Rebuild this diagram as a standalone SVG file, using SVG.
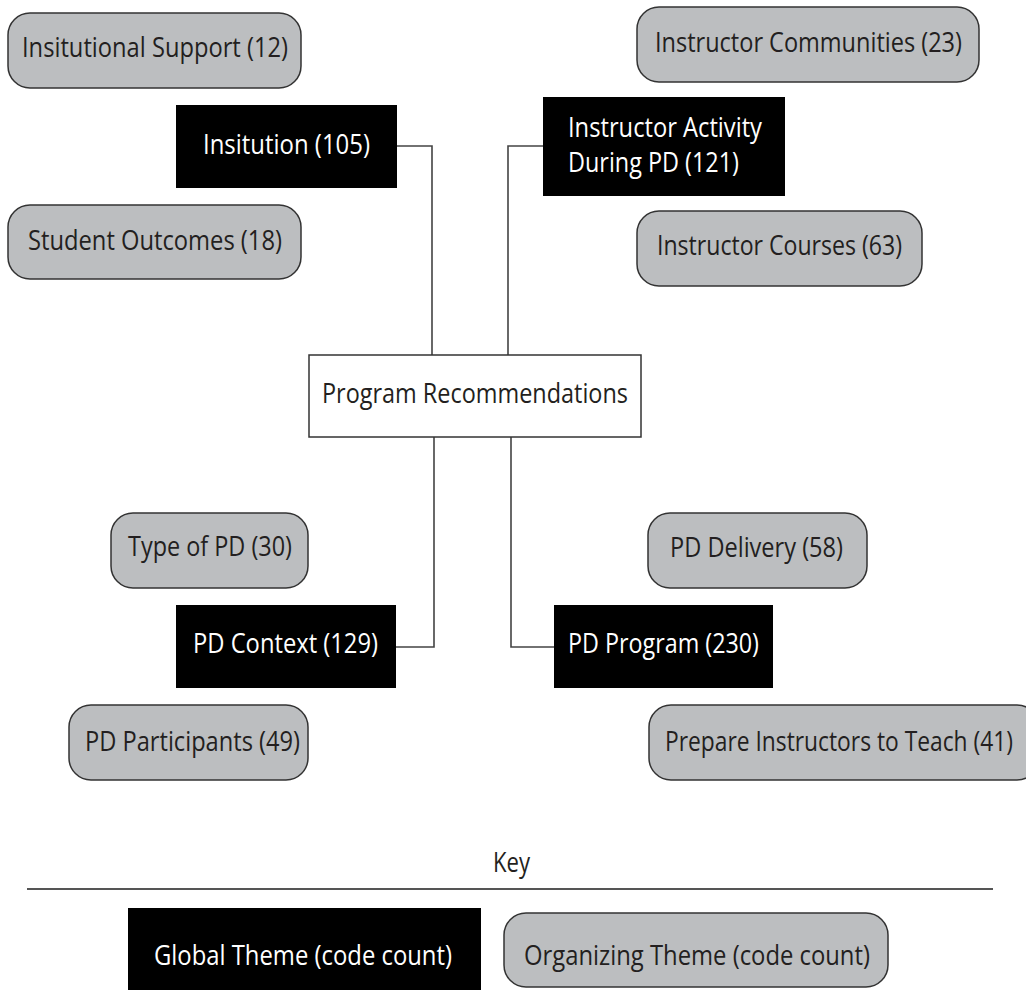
<svg xmlns="http://www.w3.org/2000/svg" width="1026" height="990" viewBox="0 0 1026 990">
<style>
.org{fill:#bcbec0;stroke:#333;stroke-width:1.5}
.glob{fill:#000}
.main{fill:#fff;stroke:#333;stroke-width:1.5}
.t{font-family:"Open Sans","Liberation Sans",sans-serif;font-size:26.5px;fill:#231f20}
.w{fill:#fff}
.con{fill:none;stroke:#444;stroke-width:1.6}
</style>
<rect width="1026" height="990" fill="#fff"/>
<g id="connectors">
<path class="con" d="M397 146 H432 V355"/>
<path class="con" d="M543 146 H508 V355"/>
<path class="con" d="M434 437 V647 H396"/>
<path class="con" d="M511 437 V647 H554"/>
</g>
<g id="n-support"><rect class="org" x="8" y="13" width="293" height="75" rx="22"/><text class="t" x="22" y="57" textLength="266" lengthAdjust="spacingAndGlyphs">Insitutional Support (12)</text></g>
<g id="n-institution"><rect class="glob" x="176" y="105" width="221" height="83"/><text class="t w" x="203" y="154" textLength="167" lengthAdjust="spacingAndGlyphs">Insitution (105)</text></g>
<g id="n-student"><rect class="org" x="8" y="205" width="293" height="74" rx="22"/><text class="t" x="28" y="250" textLength="254" lengthAdjust="spacingAndGlyphs">Student Outcomes (18)</text></g>
<g id="n-communities"><rect class="org" x="637" y="7" width="342" height="75" rx="22"/><text class="t" x="655" y="52" textLength="307" lengthAdjust="spacingAndGlyphs">Instructor Communities (23)</text></g>
<g id="n-activity"><rect class="glob" x="543" y="97" width="242" height="99"/><text class="t w" x="568" y="137" textLength="194" lengthAdjust="spacingAndGlyphs">Instructor Activity</text><text class="t w" x="568" y="172" textLength="171" lengthAdjust="spacingAndGlyphs">During PD (121)</text></g>
<g id="n-courses"><rect class="org" x="637" y="211" width="285" height="75" rx="22"/><text class="t" x="657" y="255" textLength="245" lengthAdjust="spacingAndGlyphs">Instructor Courses (63)</text></g>
<g id="n-program-rec"><rect class="main" x="309" y="355" width="332" height="82"/><text class="t" x="322" y="403" textLength="306" lengthAdjust="spacingAndGlyphs">Program Recommendations</text></g>
<g id="n-type"><rect class="org" x="111" y="513" width="197" height="75" rx="22"/><text class="t" x="128" y="556" textLength="164" lengthAdjust="spacingAndGlyphs">Type of PD (30)</text></g>
<g id="n-context"><rect class="glob" x="176" y="605" width="220" height="83"/><text class="t w" x="193" y="653" textLength="185" lengthAdjust="spacingAndGlyphs">PD Context (129)</text></g>
<g id="n-participants"><rect class="org" x="69" y="705" width="239" height="75" rx="22"/><text class="t" x="85" y="751" textLength="215" lengthAdjust="spacingAndGlyphs">PD Participants (49)</text></g>
<g id="n-delivery"><rect class="org" x="648" y="513" width="219" height="75" rx="22"/><text class="t" x="670" y="557" textLength="173" lengthAdjust="spacingAndGlyphs">PD Delivery (58)</text></g>
<g id="n-pdprogram"><rect class="glob" x="554" y="605" width="219" height="83"/><text class="t w" x="568" y="653" textLength="191" lengthAdjust="spacingAndGlyphs">PD Program (230)</text></g>
<g id="n-prepare"><rect class="org" x="649" y="705" width="390" height="75" rx="22"/><text class="t" x="665" y="751" textLength="348" lengthAdjust="spacingAndGlyphs">Prepare Instructors to Teach (41)</text></g>
<g id="key">
<text class="t" x="493" y="872" textLength="37" lengthAdjust="spacingAndGlyphs">Key</text>
<line x1="27" y1="889" x2="993" y2="889" stroke="#555" stroke-width="2"/>
<rect class="glob" x="128" y="908" width="353" height="90"/>
<text class="t w" x="154" y="965" textLength="298" lengthAdjust="spacingAndGlyphs">Global Theme (code count)</text>
<rect class="org" x="504" y="913" width="384" height="74" rx="22"/>
<text class="t" x="524" y="965" textLength="346" lengthAdjust="spacingAndGlyphs">Organizing Theme (code count)</text>
</g>
</svg>
